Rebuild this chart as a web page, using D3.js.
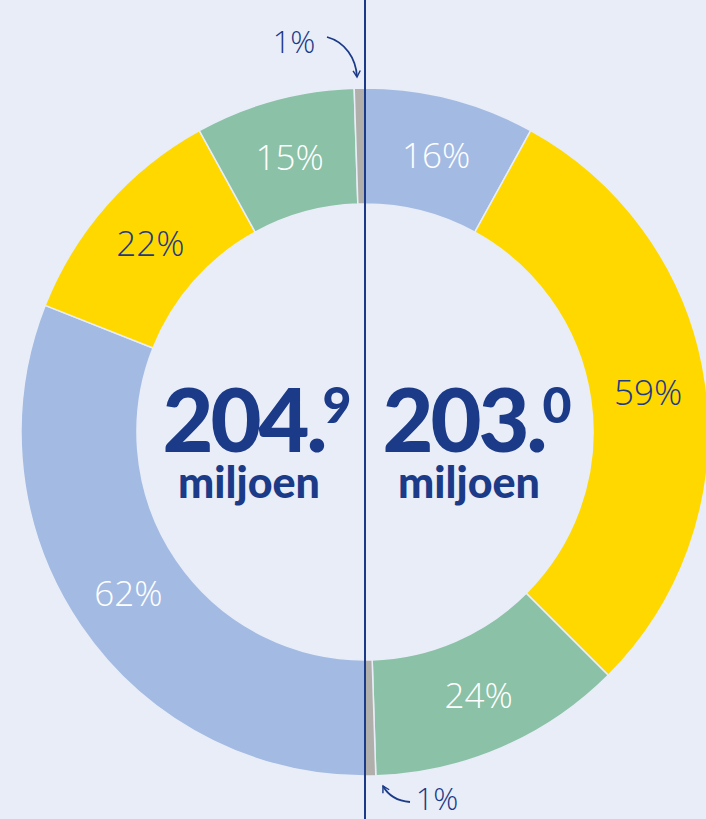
<!DOCTYPE html>
<html>
<head>
<meta charset="utf-8">
<script src="https://cdn.jsdelivr.net/npm/d3@7"></script>
<style>
  html, body { margin: 0; padding: 0; background: #e8edf8; }
  svg { display: block; }
</style>
</head>
<body>
<div id="svg-container"></div>
<script>
const categories = ['blauw', 'geel', 'groen', 'grijs']
// left half, clockwise from bottom to top
const leftValues = [62, 22, 15, 1]
const leftOrder = ['blauw', 'geel', 'groen', 'grijs']
// right half, clockwise from top to bottom
const rightValues = [16, 59, 24, 1]
const rightOrder = ['blauw', 'geel', 'groen', 'grijs']
const totals = [
  { main: '204.', sup: '9', unit: 'miljoen' },
  { main: '203.', sup: '0', unit: 'miljoen' },
]

const width = 706
const height = 819
const cx = 365
const cy = 432
const outerR = 344
const innerR = 228
const navy = '#1b3a87'

const colorScale = d3
  .scaleOrdinal()
  .domain(categories)
  .range(['#a3bbe3', '#ffd800', '#8bc1a6', '#b1afab'])
const labelColor = d3
  .scaleOrdinal()
  .domain(categories)
  .range(['#ffffff', navy, '#ffffff', '#ffffff'])

const svg = d3
  .select('#svg-container')
  .append('svg')
  .attr('width', width)
  .attr('height', height)
  .style('background', '#e8edf8')

svg
  .append('defs')
  .append('marker')
  .attr('id', 'arrow')
  .attr('viewBox', '0 0 10 10')
  .attr('refX', 8)
  .attr('refY', 5)
  .attr('markerWidth', 5)
  .attr('markerHeight', 5)
  .attr('orient', 'auto')
  .append('path')
  .attr('d', 'M1,1 L8,5 L1,9')
  .attr('fill', 'none')
  .attr('stroke', navy)
  .attr('stroke-width', 1.6)

const chartCore = svg
  .append('g')
  .attr('transform', `translate(${cx}, ${cy})`)

const arc = d3.arc().innerRadius(innerR).outerRadius(outerR)
const labelArc = d3
  .arc()
  .innerRadius((innerR + outerR) / 2)
  .outerRadius((innerR + outerR) / 2)

const halves = [
  { values: leftValues, order: leftOrder, start: Math.PI, end: 2 * Math.PI },
  { values: rightValues, order: rightOrder, start: 0, end: Math.PI },
]

halves.forEach(h => {
  const data = h.values.map((v, i) => ({ key: h.order[i], value: v }))
  const pie = d3
    .pie()
    .sort(null)
    .value(d => d.value)
    .startAngle(h.start)
    .endAngle(h.end)
  const arcs = pie(data)

  const g = chartCore.append('g')
  g.selectAll('path')
    .data(arcs)
    .join('path')
    .attr('d', arc)
    .attr('fill', d => colorScale(d.data.key))
    .attr('stroke', '#e8edf8')
    .attr('stroke-width', 1.5)

  g.selectAll('text')
    .data(arcs.filter(d => d.data.value > 2))
    .join('text')
    .attr('transform', d => `translate(${labelArc.centroid(d)})`)
    .attr('text-anchor', 'middle')
    .attr('dominant-baseline', 'central')
    .attr('fill', d => labelColor(d.data.key))
    .style('font-family', 'Open Sans, sans-serif')
    .style('font-weight', 350)
    .style('font-size', '35px')
    .text(d => `${d.data.value}%`)
})

// centre totals
totals.forEach((t, i) => {
  const x = i === 0 ? -108 : 112
  const txt = chartCore
    .append('text')
    .attr('x', x)
    .attr('y', 20)
    .attr('text-anchor', 'middle')
    .attr('fill', navy)
    .style('font-family', 'Lato, sans-serif')
    .style('font-weight', 900)
    .style('font-size', '88px')
    .style('letter-spacing', '-3px')
  txt.append('tspan').text(t.main)
  txt
    .append('tspan')
    .attr('dy', -29)
    .attr('dx', -2)
    .style('font-size', '50px')
    .style('letter-spacing', '0px')
    .text(t.sup)

  chartCore
    .append('text')
    .attr('x', x - 8)
    .attr('y', 66)
    .attr('text-anchor', 'middle')
    .attr('fill', navy)
    .style('font-family', 'Lato, sans-serif')
    .style('font-weight', 900)
    .style('font-size', '43px')
    .text(t.unit)
})

// vertical divider
svg
  .append('line')
  .attr('x1', cx)
  .attr('x2', cx)
  .attr('y1', 0)
  .attr('y2', height)
  .attr('stroke', navy)
  .attr('stroke-width', 2)

// annotations for the 1% slices
const annotations = [
  { text: '1%', x: 294, y: 41, path: 'M327,37 C345,42 356,58 357,77' },
  { text: '1%', x: 437, y: 798, path: 'M410,802 C398,801 388,795 383,786' },
]
svg
  .selectAll('path.annot')
  .data(annotations)
  .join('path')
  .attr('class', 'annot')
  .attr('d', d => d.path)
  .attr('fill', 'none')
  .attr('stroke', navy)
  .attr('stroke-width', 1.8)
  .attr('marker-end', 'url(#arrow)')
svg
  .selectAll('text.annot')
  .data(annotations)
  .join('text')
  .attr('class', 'annot')
  .attr('x', d => d.x)
  .attr('y', d => d.y)
  .attr('text-anchor', 'middle')
  .attr('dominant-baseline', 'central')
  .attr('fill', navy)
  .style('font-family', 'Open Sans, sans-serif')
  .style('font-weight', 350)
  .style('font-size', '31px')
  .text(d => d.text)
</script>
</body>
</html>
